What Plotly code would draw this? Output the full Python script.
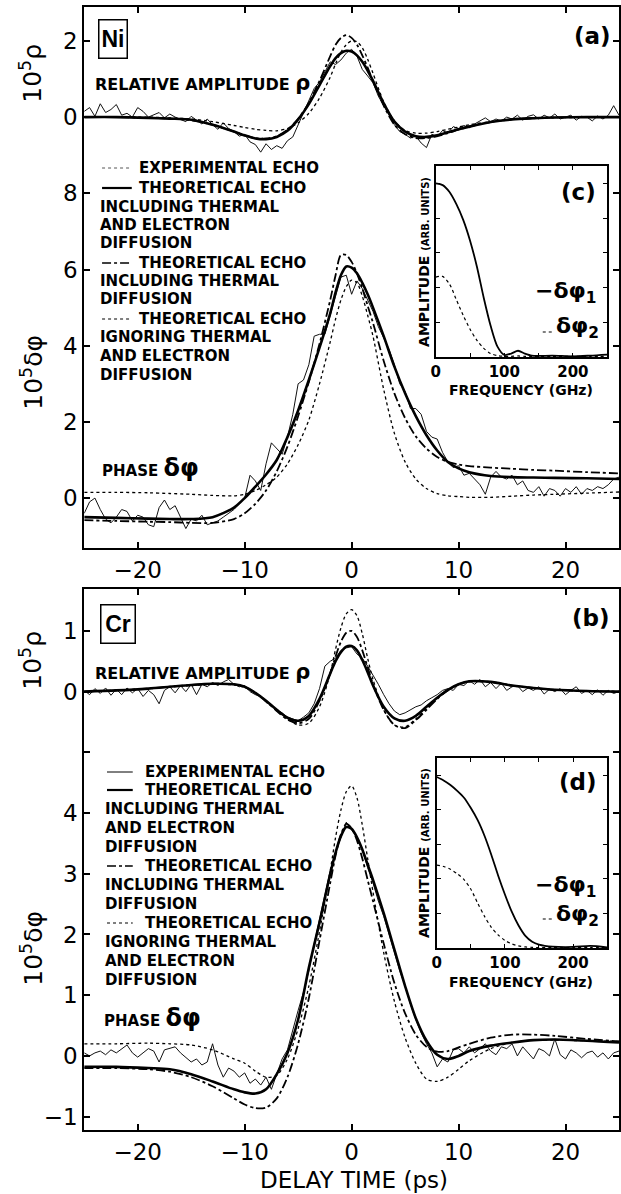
import plotly.graph_objects as go
import numpy as np

W, H = 621, 1194
FONT = "DejaVu Sans"

# ---------------- data ----------------
# theory time grid (ps)
T = [-25, -22, -19, -17, -15, -13, -11, -10, -9, -8, -7, -6, -5, -4, -3, -2,
     -1.5, -1, -0.5, 0, 0.5, 1, 1.5, 2, 3, 4, 5, 6, 7, 8, 9, 10, 11,
     13, 15, 17, 19, 22, 25]

# Panel (a) Ni : relative amplitude rho
NI_RHO_FULL = [0, 0, -0.02, -0.04, -0.07, -0.2, -0.38, -0.48, -0.56, -0.58,
               -0.52, -0.36, -0.06, 0.34, 0.84, 1.34,
               1.55, 1.68, 1.74, 1.72, 1.62, 1.45, 1.22, 0.95,
               0.36, -0.12, -0.38, -0.5, -0.52, -0.48, -0.4, -0.32, -0.25,
               -0.13, -0.06, -0.03, -0.01, 0, 0]
NI_RHO_THERM = [0, 0, -0.02, -0.04, -0.08, -0.2, -0.38, -0.48, -0.55, -0.56,
                -0.5, -0.33, -0.05, 0.38, 0.95, 1.6,
                1.9, 2.08, 2.15, 2.08, 1.9, 1.62, 1.3, 0.95,
                0.3, -0.2, -0.45, -0.55, -0.55, -0.5, -0.42, -0.33, -0.25,
                -0.13, -0.06, -0.03, -0.01, 0, 0]
NI_RHO_NODIFF = [0, 0, 0, -0.02, -0.05, -0.12, -0.22, -0.27, -0.32, -0.35,
                 -0.36, -0.3, -0.15, 0.1, 0.5, 1.05,
                 1.4, 1.7, 1.9, 2.0, 1.98, 1.82, 1.52, 1.15,
                 0.4, -0.1, -0.35, -0.42, -0.42, -0.38, -0.32, -0.26, -0.2,
                 -0.12, -0.06, -0.03, -0.01, 0, 0]
# Panel (a) Ni : phase delta-phi
NI_PHI_FULL = [-0.5, -0.52, -0.54, -0.55, -0.55, -0.5, -0.25, 0.0, 0.3, 0.62,
               1.0, 1.6, 2.3, 3.1, 3.95, 4.85,
               5.4, 5.85, 6.08, 6.05, 5.9, 5.65, 5.35, 5.0,
               4.25, 3.45, 2.75, 2.15, 1.65, 1.25, 0.95, 0.78, 0.68,
               0.58, 0.55, 0.54, 0.53, 0.52, 0.5]
NI_PHI_THERM = [-0.58, -0.6, -0.62, -0.63, -0.65, -0.65, -0.55, -0.4, -0.15, 0.2,
                0.7, 1.35, 2.15, 3.05, 4.05, 5.2,
                5.85, 6.38, 6.38, 6.2, 5.9, 5.5, 5.05, 4.6,
                3.6, 2.75, 2.1, 1.62, 1.3, 1.08, 0.95, 0.88, 0.84,
                0.8, 0.77, 0.74, 0.72, 0.68, 0.65]
NI_PHI_NODIFF = [0.15, 0.15, 0.14, 0.12, 0.1, 0.07, 0.06, 0.1, 0.2, 0.35,
                 0.55, 0.9, 1.4, 2.05, 3.0, 4.1,
                 4.7, 5.2, 5.55, 5.72, 5.65, 5.3, 4.8, 4.25,
                 2.85, 1.7, 0.95, 0.5, 0.25, 0.12, 0.06, 0.04, 0.02,
                 0.02, 0.05, 0.08, 0.1, 0.13, 0.16]

# Panel (b) Cr : relative amplitude rho
CR_RHO_FULL = [0, 0.02, 0.05, 0.08, 0.11, 0.13, 0.12, 0.08, -0.02, -0.15,
               -0.3, -0.43, -0.48, -0.4, -0.12, 0.3,
               0.5, 0.65, 0.74, 0.75, 0.68, 0.52, 0.32, 0.1,
               -0.25, -0.44, -0.48, -0.4, -0.25, -0.1, 0.03, 0.12, 0.17,
               0.16, 0.1, 0.06, 0.03, 0.01, 0]
CR_RHO_THERM = [0, 0.02, 0.05, 0.08, 0.11, 0.13, 0.12, 0.08, -0.02, -0.16,
                -0.32, -0.46, -0.52, -0.45, -0.15, 0.3,
                0.58, 0.82, 0.97, 1.0, 0.9, 0.68, 0.4, 0.12,
                -0.3, -0.55, -0.6, -0.47, -0.3, -0.12, 0.02, 0.12, 0.17,
                0.16, 0.1, 0.06, 0.03, 0.01, 0]
CR_RHO_NODIFF = [0, 0.02, 0.05, 0.08, 0.1, 0.12, 0.11, 0.07, -0.02, -0.15,
                 -0.3, -0.45, -0.55, -0.52, -0.25, 0.3,
                 0.7, 1.05, 1.28, 1.35, 1.25, 0.95, 0.55, 0.2,
                 -0.3, -0.55, -0.58, -0.45, -0.28, -0.1, 0.03, 0.12, 0.16,
                 0.16, 0.1, 0.06, 0.03, 0.01, 0]
# Panel (b) Cr : phase delta-phi
CR_PHI_FULL = [-0.18, -0.18, -0.2, -0.22, -0.3, -0.42, -0.55, -0.6, -0.62, -0.55,
               -0.3, 0.05, 0.6, 1.45, 2.2, 3.0,
               3.35, 3.62, 3.77, 3.74, 3.6, 3.4, 3.15, 2.9,
               2.35, 1.75, 1.15, 0.62, 0.25, 0.02, -0.05, 0.0, 0.08,
               0.17, 0.22, 0.26, 0.27, 0.25, 0.22]
CR_PHI_THERM = [-0.2, -0.2, -0.22, -0.26, -0.35, -0.5, -0.7, -0.8, -0.86, -0.85,
                -0.7, -0.35, 0.2, 0.95, 1.9, 2.85,
                3.3, 3.65, 3.82, 3.75, 3.55, 3.25, 2.9, 2.55,
                1.85, 1.2, 0.7, 0.35, 0.15, 0.07, 0.08, 0.14, 0.2,
                0.3, 0.35, 0.35, 0.33, 0.28, 0.24]
CR_PHI_NODIFF = [0.2, 0.2, 0.21, 0.2, 0.18, 0.1, -0.05, -0.12, -0.25, -0.35,
                 -0.32, -0.05, 0.45, 1.15, 2.05, 3.05,
                 3.6, 4.05, 4.35, 4.45, 4.25, 3.8, 3.25, 2.7,
                 1.7, 0.9, 0.3, -0.12, -0.38, -0.42, -0.35, -0.22, -0.08,
                 0.12, 0.22, 0.26, 0.26, 0.25, 0.24]

# experimental echoes, sampled every 0.5 ps from -25 to 25 ps
T_EXP = np.linspace(-25, 25, 101)
NI_RHO_EXP = [0.15, 0.25, 0.02, 0.35, 0.12, 0.2, 0.33, 0.05, 0.1, 0.0,
              0.25, 0.15, 0.0, 0.05, 0.12, -0.02, 0.08, 0.0, -0.05, -0.12,
              0.02, -0.08, -0.18, -0.05, -0.2, -0.32, -0.15, -0.3, -0.38, -0.5,
              -0.45, -0.65, -0.72, -0.92, -0.7, -0.85, -0.75, -0.82, -0.62, -0.52,
              -0.2, 0.1, 0.4, 0.75, 0.92, 1.2, 1.45, 1.38, 1.5, 1.68,
              1.78, 1.6, 1.25, 1.08, 0.9, 0.55, 0.3, 0.05, -0.2, -0.38,
              -0.45, -0.55, -0.5, -0.68, -0.8, -0.45, -0.52, -0.35, -0.42, -0.25,
              -0.3, -0.22, -0.28, -0.18, -0.1, -0.02, -0.12, -0.05, -0.1, 0.0,
              -0.05, 0.05, -0.08, 0.02, 0.06, -0.05, 0.05, -0.02, 0.08, -0.05,
              0.0, 0.05, -0.08, 0.02, 0.0, -0.1, 0.03, -0.05, 0.05, 0.3,
              0.05]
NI_PHI_EXP = [-0.4, -0.1, 0.0, -0.3, -0.55, -0.65, -0.5, -0.3, -0.35, -0.6,
              -0.45, -0.5, -0.7, -0.75, -0.25, -0.05, -0.3, -0.2, -0.5, -0.8,
              -0.55, -0.6, -0.45, -0.7, -0.65, -0.6, -0.5, -0.4, -0.3, -0.15,
              0.0, 0.6, 0.45, 0.2, 0.9, 1.45, 1.3, 1.15, 1.6, 2.2,
              3.0, 3.1, 3.5, 4.25, 4.3, 4.3, 4.8, 5.3, 5.8, 5.85,
              5.35, 5.7, 5.5, 5.2, 4.9, 4.5, 4.2, 3.9, 3.5, 3.0,
              2.8, 2.35, 2.35, 2.2, 1.75, 1.6, 1.55, 1.2, 0.95, 0.8,
              0.85, 0.6, 0.65, 0.5, 0.35, 0.1, 0.55, 0.7, 0.55, 0.5,
              0.6, 0.35, 0.45, 0.2, 0.15, 0.3, 0.05, 0.25, 0.2, 0.05,
              0.25, 0.15, 0.3, 0.1, 0.25, 0.2, 0.3, 0.25, 0.35, 0.5,
              0.55]
CR_RHO_EXP = [0.02, -0.05, 0.05, -0.03, 0.06, -0.06, 0.04, -0.05, 0.06, -0.02,
              0.05, -0.08, 0.02, -0.05, -0.2, 0.02, 0.08, -0.02, 0.1, 0.0,
              0.12, -0.05, 0.12, 0.08, 0.15, 0.1, 0.16, 0.2, 0.12, 0.08,
              0.1, 0.0, -0.05, -0.08, -0.18, -0.22, -0.3, -0.35, -0.42, -0.45,
              -0.48, -0.42, -0.35, -0.2, 0.05, 0.42, 0.5, 0.55, 0.68, 0.72,
              0.74, 0.62, 0.55, 0.42, 0.28, 0.12, -0.05, -0.2, -0.32, -0.38,
              -0.35, -0.3, -0.25, -0.22, -0.15, -0.1, -0.05, 0.02, 0.05, 0.02,
              0.12, 0.1, 0.18, 0.12, 0.2, 0.08, 0.15, 0.05, 0.14, 0.02,
              0.08, 0.1, 0.0, 0.06, 0.02, 0.08, -0.04, 0.04, 0.0, 0.05,
              -0.05, 0.02, 0.08, -0.03, 0.02, -0.05, 0.03, -0.06, 0.02, -0.03,
              0.0]
CR_PHI_EXP = [0.05, 0.0, 0.05, 0.08, 0.02, 0.1, 0.05, 0.12, 0.18, 0.05,
              -0.02, 0.05, 0.12, 0.08, -0.1, 0.1, 0.12, 0.15, 0.05, -0.02,
              -0.1, -0.05, -0.15, -0.1, 0.2, -0.15, -0.35, -0.2, -0.25, -0.35,
              -0.28, -0.45, -0.38, -0.48, -0.35, -0.55, -0.3, -0.05, 0.1, 0.45,
              0.75, 1.05, 1.4, 1.85, 2.25, 2.7, 3.05, 3.35, 3.62, 3.85,
              3.72, 3.6, 3.4, 3.1, 2.85, 2.55, 2.3, 2.0, 1.7, 1.4,
              1.15, 0.85, 0.6, 0.38, 0.2, 0.05, -0.18, -0.05, -0.1, 0.1,
              0.12, 0.05, 0.15, 0.05, 0.12, 0.2, 0.08, 0.02, 0.15, 0.12,
              0.2, 0.0, 0.15, 0.05, -0.05, 0.12, 0.08, 0.0, 0.28, 0.02,
              -0.05, 0.1, 0.05, -0.03, 0.05, 0.08, -0.02, 0.05, -0.05, 0.05,
              0.08]

# insets: Fourier amplitudes (arb. units) vs frequency (GHz)
FREQ = [0, 10, 20, 30, 40, 50, 60, 70, 80, 90, 100, 110, 120, 130, 140, 150,
        170, 200, 225, 250]
C_PHI1 = [5.0, 4.95, 4.75, 4.4, 3.95, 3.35, 2.6, 1.7, 0.9, 0.3, 0.06, 0.1,
          0.18, 0.1, 0.04, 0.03, 0.04, 0.02, 0.04, 0.07]
C_PHI2 = [2.3, 2.32, 2.1, 1.65, 1.2, 0.8, 0.48, 0.25, 0.1, 0.04, 0.02, 0.02,
          0.03, 0.02, 0.02, 0.02, 0.02, 0.02, 0.02, 0.02]
D_PHI1 = [4.95, 4.85, 4.72, 4.55, 4.35, 4.05, 3.7, 3.25, 2.7, 2.1, 1.55, 1.05,
          0.65, 0.35, 0.18, 0.1, 0.04, 0.03, 0.06, 0.02]
D_PHI2 = [2.4, 2.36, 2.28, 2.15, 1.98, 1.7, 1.3, 0.92, 0.6, 0.38, 0.22, 0.12,
          0.06, 0.03, 0.02, 0.01, 0.01, 0.01, 0.01, 0.01]

X_TICKS = [-20, -10, 0, 10, 20]

for s in [NI_RHO_FULL, NI_RHO_THERM, NI_RHO_NODIFF, NI_PHI_FULL, NI_PHI_THERM,
          NI_PHI_NODIFF, CR_RHO_FULL, CR_RHO_THERM, CR_RHO_NODIFF, CR_PHI_FULL,
          CR_PHI_THERM, CR_PHI_NODIFF]:
    assert len(s) == len(T), len(s)
for s in [NI_RHO_EXP, NI_PHI_EXP, CR_RHO_EXP, CR_PHI_EXP]:
    assert len(s) == len(T_EXP), len(s)
for s in [C_PHI1, C_PHI2, D_PHI1, D_PHI2]:
    assert len(s) == len(FREQ)

# ---------------- styles ----------------
EXP = dict(color="#111", width=1.0)
FULL = dict(color="black", width=2.6)
THERM = dict(color="black", width=1.8, dash="dashdot")
NODIFF = dict(color="black", width=1.3, dash="dot")

fig = go.Figure()


def add(x, y, line, xa, ya, spline=True):
    ln = dict(**line, shape="spline", smoothing=0.8) if spline else line
    fig.add_trace(go.Scatter(x=x, y=y, mode="lines", line=ln,
                             xaxis=xa, yaxis=ya, hoverinfo="skip"))


# panel (a)
add(T_EXP, NI_RHO_EXP, EXP, "x", "y5", spline=False)
add(T, NI_RHO_NODIFF, NODIFF, "x", "y5")
add(T, NI_RHO_THERM, THERM, "x", "y5")
add(T, NI_RHO_FULL, FULL, "x", "y5")
add(T_EXP, NI_PHI_EXP, EXP, "x", "y", spline=False)
add(T, NI_PHI_NODIFF, NODIFF, "x", "y")
add(T, NI_PHI_THERM, THERM, "x", "y")
add(T, NI_PHI_FULL, FULL, "x", "y")
# panel (b)
add(T_EXP, CR_RHO_EXP, EXP, "x2", "y6", spline=False)
add(T, CR_RHO_NODIFF, NODIFF, "x2", "y6")
add(T, CR_RHO_THERM, THERM, "x2", "y6")
add(T, CR_RHO_FULL, FULL, "x2", "y6")
add(T_EXP, CR_PHI_EXP, EXP, "x2", "y2", spline=False)
add(T, CR_PHI_NODIFF, NODIFF, "x2", "y2")
add(T, CR_PHI_THERM, THERM, "x2", "y2")
add(T, CR_PHI_FULL, FULL, "x2", "y2")
# insets
add(FREQ, C_PHI1, dict(color="black", width=1.8), "x3", "y3")
add(FREQ, C_PHI2, dict(color="black", width=1.2, dash="dot"), "x3", "y3")
add(FREQ, D_PHI1, dict(color="black", width=1.8), "x4", "y4")
add(FREQ, D_PHI2, dict(color="black", width=1.2, dash="dot"), "x4", "y4")


def px(x0, x1):
    return [x0 / W, x1 / W]


def py(top, bottom):
    return [1 - bottom / H, 1 - top / H]


TICKFONT = dict(family=FONT, size=23, color="black")
common = dict(showgrid=False, zeroline=False, showline=True, linecolor="black",
              ticks="inside", tickcolor="black", mirror="ticks")

main_x = dict(range=[-25, 25], tickvals=X_TICKS, ticklen=6, tickwidth=1.5,
              linewidth=2, tickfont=TICKFONT, **common)
main_y = dict(ticklen=6, tickwidth=1.5, linewidth=2, tickfont=TICKFONT, **common)

inset_x = dict(range=[0, 250], tickvals=[0, 50, 100, 150, 200, 250],
               ticktext=["0", "", "100", "", "200", ""], ticklen=4, tickwidth=1.2,
               linewidth=1.6, tickfont=dict(family=FONT, size=15, color="black", weight="bold"),
               **common)
inset_y = dict(range=[0, 5.5], tickvals=[1, 2, 3, 4, 5], showticklabels=False,
               ticklen=4, tickwidth=1.2, linewidth=1.6, **common)

A_TOP, A_BOT = 7, 548
B_TOP, B_BOT = 589, 1130
XL, XR = 80, 620

fig.update_layout(
    width=W, height=H, margin=dict(l=0, r=0, t=0, b=0),
    paper_bgcolor="white", plot_bgcolor="white", showlegend=False,
    xaxis=dict(domain=px(XL, XR), anchor="y", **main_x),
    yaxis=dict(domain=py(A_TOP, A_BOT), anchor="x", range=[-1.31, 12.89],
               tickvals=[0, 2, 4, 6, 8], **main_y),
    yaxis5=dict(overlaying="y", anchor="x", side="left", range=[-11.31, 2.89],
                tickvals=[0, 2], **main_y),
    xaxis2=dict(domain=px(XL, XR), anchor="y2", **main_x),
    yaxis2=dict(domain=py(B_TOP, B_BOT), anchor="x2", range=[-1.22, 7.69],
                tickvals=[-1, 0, 1, 2, 3, 4], **main_y),
    yaxis6=dict(overlaying="y2", anchor="x2", side="left", range=[-7.22, 1.69],
                tickvals=[-1, 0, 1], ticktext=["", "0", "1"], **main_y),
    xaxis3=dict(domain=px(435, 608), anchor="y3", **inset_x),
    yaxis3=dict(domain=py(166, 357), anchor="x3", **inset_y),
    xaxis4=dict(domain=px(436, 608), anchor="y4", **inset_x),
    yaxis4=dict(domain=py(758, 948), anchor="x4", **inset_y),
)

anns = []
shapes = []


def ann(text, x, y, size, xanchor="left", angle=0, bold=True, family=FONT, **kw):
    anns.append(dict(text=f"<b>{text}</b>" if bold else text, x=x / W, y=1 - y / H,
                     xref="paper", yref="paper", xanchor=xanchor, yanchor="middle",
                     showarrow=False, textangle=angle,
                     font=dict(family=family, size=size, color="black"), **kw))


def sample(x0, x1, y, line):
    shapes.append(dict(type="line", xref="paper", yref="paper", x0=x0 / W, x1=x1 / W,
                       y0=1 - y / H, y1=1 - y / H, line=line))


# axis titles
ann("10<sup>5</sup>ρ", 27, 73, 25, xanchor="center", angle=-90, bold=False)
ann("10<sup>5</sup>δφ", 27, 372, 25, xanchor="center", angle=-90, bold=False)
ann("10<sup>5</sup>ρ", 27, 660, 25, xanchor="center", angle=-90, bold=False)
ann("10<sup>5</sup>δφ", 27, 948, 25, xanchor="center", angle=-90, bold=False)
ann("DELAY TIME (ps)", 352, 1180, 23, xanchor="center", bold=False)

# panel labels
ann("Ni", 109, 39, 23, xanchor="center", family="Liberation Sans",
    bordercolor="black", borderwidth=1.5, borderpad=1, width=25, height=35)
ann("Cr", 114, 624, 23, xanchor="center", family="Liberation Sans",
    bordercolor="black", borderwidth=1.5, borderpad=1, width=31, height=35)
ann("(a)", 593, 36, 23, xanchor="center")
ann("(b)", 592, 618, 23, xanchor="center")
ann("RELATIVE AMPLITUDE <span style='font-size:21px'>ρ</span>", 89, 83, 16)
ann("RELATIVE AMPLITUDE <span style='font-size:21px'>ρ</span>", 89, 672, 16)
ann("PHASE <span style='font-size:24px'>δφ</span>", 96, 468, 15)
ann("PHASE <span style='font-size:24px'>δφ</span>", 98, 1018, 15)

# legend blocks
LEG_EXP_A = dict(color="#555", width=1, dash="dot")
LEG_EXP_B = dict(color="black", width=1)
FS = 15
for (x0, xs, xt, ys, lexp) in [(98, 128, 133, [168, 188, 207, 225, 243, 263, 281, 299, 319, 337, 356, 375], LEG_EXP_A),
                                (103, 129, 139, [772, 790, 809, 828, 847, 866, 885, 904, 923, 942, 961, 980], LEG_EXP_B)]:
    xc = x0 - 4
    sample(x0, xs, ys[0], lexp)
    ann("EXPERIMENTAL ECHO", xt, ys[0], FS)
    sample(x0, xs, ys[1], dict(color="black", width=2.2))
    ann("THEORETICAL ECHO", xt, ys[1], FS)
    ann("INCLUDING THERMAL", xc, ys[2], FS)
    ann("AND ELECTRON", xc, ys[3], FS)
    ann("DIFFUSION", xc, ys[4], FS)
    sample(x0, xs, ys[5], dict(color="black", width=1.6, dash="dashdot"))
    ann("THEORETICAL ECHO", xt, ys[5], FS)
    ann("INCLUDING THERMAL", xc, ys[6], FS)
    ann("DIFFUSION", xc, ys[7], FS)
    sample(x0, xs, ys[8], dict(color="black", width=1.2, dash="dot"))
    ann("THEORETICAL ECHO", xt, ys[8], FS)
    ann("IGNORING THERMAL", xc, ys[9], FS)
    ann("AND ELECTRON", xc, ys[10], FS)
    ann("DIFFUSION", xc, ys[11], FS)

# inset labels
for (yc, yfreq, yphi1, yphi2) in [(262, 390, 292, 328), (853, 982, 886, 915)]:
    ann("AMPLITUDE <span style='font-size:10px'>(ARB. UNITS)</span>", 423, yc, 14,
        xanchor="center", angle=-90)
    ann("FREQUENCY (GHz)", 521, yfreq, 14, xanchor="center")
    ann("−δφ<sub>1</sub>", 566, yphi1, 22, xanchor="center")
    sample(543, 555, yphi2 + 4, dict(color="black", width=1.2, dash="dot"))
    ann("δφ<sub>2</sub>", 554, yphi2, 22)
ann("(c)", 579, 192, 23, xanchor="center")
ann("(d)", 579, 782, 23, xanchor="center")

fig.update_layout(annotations=anns, shapes=shapes)
fig.write_html("out.html", config={"displayModeBar": False},
               post_script="document.body.style.margin='0';document.body.style.overflow='hidden';")
